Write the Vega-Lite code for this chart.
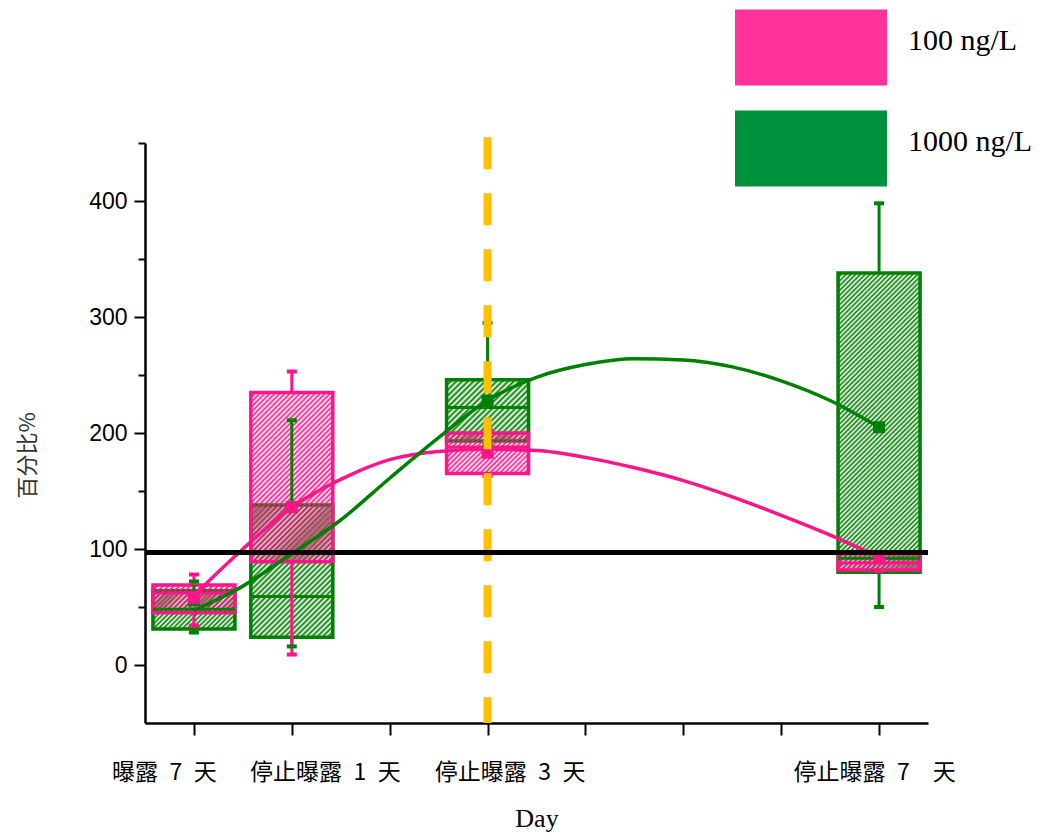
{
  "$schema": "https://vega.github.io/schema/vega-lite/v6.json",
  "width": 783,
  "height": 580,
  "autosize": {"type": "none"},
  "padding": {"left": 145, "top": 143, "right": 122, "bottom": 116},
  "config": {"view": {"stroke": null}, "axis": {"grid": false}, "scale": {"continuousPadding": 0}},
  "datasets": {
    "boxes": [
      {"group": "1000 ng/L", "x": 1, "lo": 28, "q1": 31, "med": 48, "q3": 64, "hi": 72, "mean": 56},
      {"group": "1000 ng/L", "x": 2, "lo": 16, "q1": 24, "med": 59, "q3": 138, "hi": 211, "mean": 136},
      {"group": "1000 ng/L", "x": 4, "lo": 190, "q1": 193, "med": 222, "q3": 246, "hi": 295, "mean": 228},
      {"group": "1000 ng/L", "x": 8, "lo": 50, "q1": 80, "med": 92, "q3": 338, "hi": 398, "mean": 205},
      {"group": "100 ng/L", "x": 1, "lo": 34, "q1": 45, "med": 62, "q3": 69, "hi": 78, "mean": 58},
      {"group": "100 ng/L", "x": 2, "lo": 9, "q1": 89, "med": 97, "q3": 235, "hi": 253, "mean": 136},
      {"group": "100 ng/L", "x": 4, "lo": 163, "q1": 165, "med": 188, "q3": 200, "hi": 203, "mean": 183},
      {"group": "100 ng/L", "x": 8, "lo": 81, "q1": 82, "med": 88, "q3": 96, "hi": 97, "mean": 92}
    ],
    "curves": [
      {"group": "100 ng/L", "x": 1, "y": 60},
      {"group": "100 ng/L", "x": 1.5, "y": 100},
      {"group": "100 ng/L", "x": 2, "y": 136},
      {"group": "100 ng/L", "x": 2.5, "y": 160},
      {"group": "100 ng/L", "x": 3, "y": 177},
      {"group": "100 ng/L", "x": 3.5, "y": 184},
      {"group": "100 ng/L", "x": 4, "y": 186},
      {"group": "100 ng/L", "x": 4.5, "y": 185},
      {"group": "100 ng/L", "x": 5, "y": 179},
      {"group": "100 ng/L", "x": 5.5, "y": 170},
      {"group": "100 ng/L", "x": 6, "y": 159},
      {"group": "100 ng/L", "x": 6.5, "y": 145},
      {"group": "100 ng/L", "x": 7, "y": 129},
      {"group": "100 ng/L", "x": 7.5, "y": 112},
      {"group": "100 ng/L", "x": 8, "y": 93},
      {"group": "1000 ng/L", "x": 1, "y": 47},
      {"group": "1000 ng/L", "x": 1.5, "y": 68},
      {"group": "1000 ng/L", "x": 2, "y": 96},
      {"group": "1000 ng/L", "x": 2.5, "y": 125},
      {"group": "1000 ng/L", "x": 3, "y": 161},
      {"group": "1000 ng/L", "x": 3.5, "y": 196},
      {"group": "1000 ng/L", "x": 4, "y": 228},
      {"group": "1000 ng/L", "x": 4.5, "y": 248},
      {"group": "1000 ng/L", "x": 5, "y": 259},
      {"group": "1000 ng/L", "x": 5.5, "y": 264},
      {"group": "1000 ng/L", "x": 6, "y": 263},
      {"group": "1000 ng/L", "x": 6.5, "y": 257},
      {"group": "1000 ng/L", "x": 7, "y": 245},
      {"group": "1000 ng/L", "x": 7.5, "y": 228},
      {"group": "1000 ng/L", "x": 8, "y": 205}
    ],
    "vline": [{"x": 4, "ytop": 455, "ybot": -50}]
  },
  "layer": [
    {
      "data": {"name": "boxes"},
      "mark": {"type": "point", "size": 0, "strokeWidth": 0, "filled": true},
      "encoding": {
        "x": {"field": "x", "type": "quantitative", "scale": {"domain": [0.5, 8.5], "nice": false, "zero": false, "padding": 0},
          "axis": {
            "title": "Day",
            "titleFont": "Liberation Serif", "titleFontSize": 26, "titleFontWeight": "normal", "titleColor": "black",
            "titleBaseline": "top", "titleY": 82,
            "values": [1, 2, 3, 4, 5, 6, 7, 8],
            "labelExpr": "datum.value == 1 ? '曝露\u20027\u2002天' : datum.value == 2 ? '停止曝露\u20021\u2002天' : datum.value == 4 ? '停止曝露\u20023\u2002天' : datum.value == 8 ? '停止曝露\u20027\u2002\u2002天' : ''",
            "labelFont": "Noto Sans CJK TC", "labelFontSize": 23, "labelColor": "black",
            "labelBaseline": "top", "labelPadding": 26, "labelFlush": false, "labelOverlap": false, "labelBound": false,
            "labelOffset": {"condition": [
              {"test": "datum.value == 1", "value": -30},
              {"test": "datum.value == 2", "value": 33},
              {"test": "datum.value == 4", "value": 22},
              {"test": "datum.value == 8", "value": -5}
            ], "value": 0},
            "tickSize": 12, "tickWidth": 2, "tickColor": "black",
            "domainColor": "black", "domainWidth": 2.5
          }
        },
        "y": {"field": "mean", "type": "quantitative", "scale": {"domain": [-50, 450], "nice": false, "zero": false, "padding": 0},
          "axis": {
            "title": "百分比%",
            "titleFont": "Noto Sans CJK SC", "titleFontSize": 22, "titleFontWeight": "normal", "titleColor": "#333333",
            "titleX": -118, "titleY": 312, "titleAlign": "center", "titleBaseline": "middle", "titleAngle": -90,
            "values": [0, 50, 100, 150, 200, 250, 300, 350, 400, 450],
            "labelExpr": "datum.value % 100 === 0 ? datum.label : ''",
            "labelFont": "Liberation Sans", "labelFontSize": 23, "labelColor": "black", "labelPadding": 7,
            "tickSize": {"condition": {"test": "datum.value % 100 !== 0", "value": 7}, "value": 11},
            "tickWidth": 2, "tickColor": "black",
            "domainColor": "black", "domainWidth": 2.5
          }
        },
        "color": {
          "field": "group", "type": "nominal",
          "scale": {"domain": ["100 ng/L", "1000 ng/L"], "range": ["#FF3399", "#00913F"]},
          "legend": {
            "title": null, "orient": "none", "legendX": 628, "legendY": -133.5,
            "symbolType": "M-2,-1H2V1H-2Z", "symbolSize": 5776, "symbolStrokeWidth": 0, "symbolOpacity": 1,
            "labelFont": "Liberation Serif", "labelFontSize": 30, "labelColor": "black", "labelOffset": 59, "labelLimit": 400,
            "rowPadding": 25, "padding": 0,
            "encode": {"labels": {"update": {"dy": {"value": -7}}}}
          }
        }
      }
    },
    {
      "data": {"name": "boxes"},
      "transform": [{"filter": "datum.group === '1000 ng/L' && datum.x === 1"}],
      "mark": {"type": "bar", "size": 82, "strokeWidth": 3.5, "stroke": "#008000",
        "fill": {"gradient": "linear", "x1": 0, "y1": 0, "x2": 1.2044, "y2": 0.5622, "stops": [
          {"offset": 0, "color": "#008000"}, {"offset": 0.02, "color": "rgba(0,128,0,0)"}, {"offset": 0.04, "color": "#008000"}, {"offset": 0.06, "color": "rgba(0,128,0,0)"}, {"offset": 0.08, "color": "#008000"}, {"offset": 0.1, "color": "rgba(0,128,0,0)"}, {"offset": 0.12, "color": "#008000"}, {"offset": 0.14, "color": "rgba(0,128,0,0)"}, {"offset": 0.16, "color": "#008000"}, {"offset": 0.18, "color": "rgba(0,128,0,0)"}, {"offset": 0.2, "color": "#008000"}, {"offset": 0.22, "color": "rgba(0,128,0,0)"}, {"offset": 0.24, "color": "#008000"}, {"offset": 0.26, "color": "rgba(0,128,0,0)"}, {"offset": 0.28, "color": "#008000"}, {"offset": 0.3, "color": "rgba(0,128,0,0)"}, {"offset": 0.32, "color": "#008000"}, {"offset": 0.34, "color": "rgba(0,128,0,0)"}, {"offset": 0.36, "color": "#008000"}, {"offset": 0.38, "color": "rgba(0,128,0,0)"}, {"offset": 0.4, "color": "#008000"}, {"offset": 0.42, "color": "rgba(0,128,0,0)"}, {"offset": 0.44, "color": "#008000"}, {"offset": 0.46, "color": "rgba(0,128,0,0)"}, {"offset": 0.48, "color": "#008000"}, {"offset": 0.5, "color": "rgba(0,128,0,0)"}, {"offset": 0.52, "color": "#008000"}, {"offset": 0.54, "color": "rgba(0,128,0,0)"}, {"offset": 0.56, "color": "#008000"}, {"offset": 0.58, "color": "rgba(0,128,0,0)"}, {"offset": 0.6, "color": "#008000"}, {"offset": 0.62, "color": "rgba(0,128,0,0)"}, {"offset": 0.64, "color": "#008000"}, {"offset": 0.66, "color": "rgba(0,128,0,0)"}, {"offset": 0.68, "color": "#008000"}, {"offset": 0.7, "color": "rgba(0,128,0,0)"}, {"offset": 0.72, "color": "#008000"}, {"offset": 0.74, "color": "rgba(0,128,0,0)"}, {"offset": 0.76, "color": "#008000"}, {"offset": 0.78, "color": "rgba(0,128,0,0)"}, {"offset": 0.8, "color": "#008000"}, {"offset": 0.82, "color": "rgba(0,128,0,0)"}, {"offset": 0.84, "color": "#008000"}, {"offset": 0.86, "color": "rgba(0,128,0,0)"}, {"offset": 0.88, "color": "#008000"}, {"offset": 0.9, "color": "rgba(0,128,0,0)"}, {"offset": 0.92, "color": "#008000"}, {"offset": 0.94, "color": "rgba(0,128,0,0)"}, {"offset": 0.96, "color": "#008000"}, {"offset": 0.98, "color": "rgba(0,128,0,0)"}, {"offset": 1, "color": "#008000"}
        ]}},
      "encoding": {
        "x": {"field": "x", "type": "quantitative", "scale": {"domain": [0.5, 8.5], "nice": false, "zero": false, "padding": 0}},
        "y": {"field": "q1", "type": "quantitative", "scale": {"domain": [-50, 450], "nice": false, "zero": false, "padding": 0}},
        "y2": {"field": "q3"}
      }
    },
    {
      "data": {"name": "boxes"},
      "transform": [{"filter": "datum.group === '1000 ng/L' && datum.x === 2"}],
      "mark": {"type": "bar", "size": 82, "strokeWidth": 3.5, "stroke": "#008000",
        "fill": {"gradient": "linear", "x1": 0, "y1": 0, "x2": 0.7256, "y2": 1.1702, "stops": [
          {"offset": 0, "color": "#008000"}, {"offset": 0.0125, "color": "rgba(0,128,0,0)"}, {"offset": 0.025, "color": "#008000"}, {"offset": 0.0375, "color": "rgba(0,128,0,0)"}, {"offset": 0.05, "color": "#008000"}, {"offset": 0.0625, "color": "rgba(0,128,0,0)"}, {"offset": 0.075, "color": "#008000"}, {"offset": 0.0875, "color": "rgba(0,128,0,0)"},
          {"offset": 0.1, "color": "#008000"}, {"offset": 0.1125, "color": "rgba(0,128,0,0)"}, {"offset": 0.125, "color": "#008000"}, {"offset": 0.1375, "color": "rgba(0,128,0,0)"}, {"offset": 0.15, "color": "#008000"}, {"offset": 0.1625, "color": "rgba(0,128,0,0)"}, {"offset": 0.175, "color": "#008000"}, {"offset": 0.1875, "color": "rgba(0,128,0,0)"},
          {"offset": 0.2, "color": "#008000"}, {"offset": 0.2125, "color": "rgba(0,128,0,0)"}, {"offset": 0.225, "color": "#008000"}, {"offset": 0.2375, "color": "rgba(0,128,0,0)"}, {"offset": 0.25, "color": "#008000"}, {"offset": 0.2625, "color": "rgba(0,128,0,0)"}, {"offset": 0.275, "color": "#008000"}, {"offset": 0.2875, "color": "rgba(0,128,0,0)"},
          {"offset": 0.3, "color": "#008000"}, {"offset": 0.3125, "color": "rgba(0,128,0,0)"}, {"offset": 0.325, "color": "#008000"}, {"offset": 0.3375, "color": "rgba(0,128,0,0)"}, {"offset": 0.35, "color": "#008000"}, {"offset": 0.3625, "color": "rgba(0,128,0,0)"}, {"offset": 0.375, "color": "#008000"}, {"offset": 0.3875, "color": "rgba(0,128,0,0)"},
          {"offset": 0.4, "color": "#008000"}, {"offset": 0.4125, "color": "rgba(0,128,0,0)"}, {"offset": 0.425, "color": "#008000"}, {"offset": 0.4375, "color": "rgba(0,128,0,0)"}, {"offset": 0.45, "color": "#008000"}, {"offset": 0.4625, "color": "rgba(0,128,0,0)"}, {"offset": 0.475, "color": "#008000"}, {"offset": 0.4875, "color": "rgba(0,128,0,0)"},
          {"offset": 0.5, "color": "#008000"}, {"offset": 0.5125, "color": "rgba(0,128,0,0)"}, {"offset": 0.525, "color": "#008000"}, {"offset": 0.5375, "color": "rgba(0,128,0,0)"}, {"offset": 0.55, "color": "#008000"}, {"offset": 0.5625, "color": "rgba(0,128,0,0)"}, {"offset": 0.575, "color": "#008000"}, {"offset": 0.5875, "color": "rgba(0,128,0,0)"},
          {"offset": 0.6, "color": "#008000"}, {"offset": 0.6125, "color": "rgba(0,128,0,0)"}, {"offset": 0.625, "color": "#008000"}, {"offset": 0.6375, "color": "rgba(0,128,0,0)"}, {"offset": 0.65, "color": "#008000"}, {"offset": 0.6625, "color": "rgba(0,128,0,0)"}, {"offset": 0.675, "color": "#008000"}, {"offset": 0.6875, "color": "rgba(0,128,0,0)"},
          {"offset": 0.7, "color": "#008000"}, {"offset": 0.7125, "color": "rgba(0,128,0,0)"}, {"offset": 0.725, "color": "#008000"}, {"offset": 0.7375, "color": "rgba(0,128,0,0)"}, {"offset": 0.75, "color": "#008000"}, {"offset": 0.7625, "color": "rgba(0,128,0,0)"}, {"offset": 0.775, "color": "#008000"}, {"offset": 0.7875, "color": "rgba(0,128,0,0)"},
          {"offset": 0.8, "color": "#008000"}, {"offset": 0.8125, "color": "rgba(0,128,0,0)"}, {"offset": 0.825, "color": "#008000"}, {"offset": 0.8375, "color": "rgba(0,128,0,0)"}, {"offset": 0.85, "color": "#008000"}, {"offset": 0.8625, "color": "rgba(0,128,0,0)"}, {"offset": 0.875, "color": "#008000"}, {"offset": 0.8875, "color": "rgba(0,128,0,0)"},
          {"offset": 0.9, "color": "#008000"}, {"offset": 0.9125, "color": "rgba(0,128,0,0)"}, {"offset": 0.925, "color": "#008000"}, {"offset": 0.9375, "color": "rgba(0,128,0,0)"}, {"offset": 0.95, "color": "#008000"}, {"offset": 0.9625, "color": "rgba(0,128,0,0)"}, {"offset": 0.975, "color": "#008000"}, {"offset": 0.9875, "color": "rgba(0,128,0,0)"},
          {"offset": 1, "color": "#008000"}
        ]}},
      "encoding": {
        "x": {"field": "x", "type": "quantitative", "scale": {"domain": [0.5, 8.5], "nice": false, "zero": false, "padding": 0}},
        "y": {"field": "q1", "type": "quantitative", "scale": {"domain": [-50, 450], "nice": false, "zero": false, "padding": 0}},
        "y2": {"field": "q3"}
      }
    },
    {
      "data": {"name": "boxes"},
      "transform": [{"filter": "datum.group === '1000 ng/L' && datum.x === 4"}],
      "mark": {"type": "bar", "size": 82, "strokeWidth": 3.5, "stroke": "#008000",
        "fill": {"gradient": "linear", "x1": 0, "y1": 0, "x2": 1.1201, "y2": 0.8398, "stops": [
          {"offset": 0, "color": "#008000"}, {"offset": 0.02, "color": "rgba(0,128,0,0)"}, {"offset": 0.04, "color": "#008000"}, {"offset": 0.06, "color": "rgba(0,128,0,0)"}, {"offset": 0.08, "color": "#008000"}, {"offset": 0.1, "color": "rgba(0,128,0,0)"}, {"offset": 0.12, "color": "#008000"}, {"offset": 0.14, "color": "rgba(0,128,0,0)"}, {"offset": 0.16, "color": "#008000"}, {"offset": 0.18, "color": "rgba(0,128,0,0)"}, {"offset": 0.2, "color": "#008000"}, {"offset": 0.22, "color": "rgba(0,128,0,0)"}, {"offset": 0.24, "color": "#008000"}, {"offset": 0.26, "color": "rgba(0,128,0,0)"}, {"offset": 0.28, "color": "#008000"}, {"offset": 0.3, "color": "rgba(0,128,0,0)"}, {"offset": 0.32, "color": "#008000"}, {"offset": 0.34, "color": "rgba(0,128,0,0)"}, {"offset": 0.36, "color": "#008000"}, {"offset": 0.38, "color": "rgba(0,128,0,0)"}, {"offset": 0.4, "color": "#008000"}, {"offset": 0.42, "color": "rgba(0,128,0,0)"}, {"offset": 0.44, "color": "#008000"}, {"offset": 0.46, "color": "rgba(0,128,0,0)"}, {"offset": 0.48, "color": "#008000"}, {"offset": 0.5, "color": "rgba(0,128,0,0)"}, {"offset": 0.52, "color": "#008000"}, {"offset": 0.54, "color": "rgba(0,128,0,0)"}, {"offset": 0.56, "color": "#008000"}, {"offset": 0.58, "color": "rgba(0,128,0,0)"}, {"offset": 0.6, "color": "#008000"}, {"offset": 0.62, "color": "rgba(0,128,0,0)"}, {"offset": 0.64, "color": "#008000"}, {"offset": 0.66, "color": "rgba(0,128,0,0)"}, {"offset": 0.68, "color": "#008000"}, {"offset": 0.7, "color": "rgba(0,128,0,0)"}, {"offset": 0.72, "color": "#008000"}, {"offset": 0.74, "color": "rgba(0,128,0,0)"}, {"offset": 0.76, "color": "#008000"}, {"offset": 0.78, "color": "rgba(0,128,0,0)"}, {"offset": 0.8, "color": "#008000"}, {"offset": 0.82, "color": "rgba(0,128,0,0)"}, {"offset": 0.84, "color": "#008000"}, {"offset": 0.86, "color": "rgba(0,128,0,0)"}, {"offset": 0.88, "color": "#008000"}, {"offset": 0.9, "color": "rgba(0,128,0,0)"}, {"offset": 0.92, "color": "#008000"}, {"offset": 0.94, "color": "rgba(0,128,0,0)"}, {"offset": 0.96, "color": "#008000"}, {"offset": 0.98, "color": "rgba(0,128,0,0)"}, {"offset": 1, "color": "#008000"}
        ]}},
      "encoding": {
        "x": {"field": "x", "type": "quantitative", "scale": {"domain": [0.5, 8.5], "nice": false, "zero": false, "padding": 0}},
        "y": {"field": "q1", "type": "quantitative", "scale": {"domain": [-50, 450], "nice": false, "zero": false, "padding": 0}},
        "y2": {"field": "q3"}
      }
    },
    {
      "data": {"name": "boxes"},
      "transform": [{"filter": "datum.group === '1000 ng/L' && datum.x === 8"}],
      "mark": {"type": "bar", "size": 82, "strokeWidth": 3.5, "stroke": "#008000",
        "fill": {"gradient": "linear", "x1": 0, "y1": 0, "x2": 0.3247, "y2": 1.185, "stops": [
          {"offset": 0, "color": "#008000"}, {"offset": 0.00625, "color": "rgba(0,128,0,0)"}, {"offset": 0.0125, "color": "#008000"}, {"offset": 0.01875, "color": "rgba(0,128,0,0)"}, {"offset": 0.025, "color": "#008000"}, {"offset": 0.03125, "color": "rgba(0,128,0,0)"}, {"offset": 0.0375, "color": "#008000"}, {"offset": 0.04375, "color": "rgba(0,128,0,0)"}, {"offset": 0.05, "color": "#008000"}, {"offset": 0.05625, "color": "rgba(0,128,0,0)"}, {"offset": 0.0625, "color": "#008000"}, {"offset": 0.06875, "color": "rgba(0,128,0,0)"}, {"offset": 0.075, "color": "#008000"}, {"offset": 0.08125, "color": "rgba(0,128,0,0)"}, {"offset": 0.0875, "color": "#008000"}, {"offset": 0.09375, "color": "rgba(0,128,0,0)"},
          {"offset": 0.1, "color": "#008000"}, {"offset": 0.10625, "color": "rgba(0,128,0,0)"}, {"offset": 0.1125, "color": "#008000"}, {"offset": 0.11875, "color": "rgba(0,128,0,0)"}, {"offset": 0.125, "color": "#008000"}, {"offset": 0.13125, "color": "rgba(0,128,0,0)"}, {"offset": 0.1375, "color": "#008000"}, {"offset": 0.14375, "color": "rgba(0,128,0,0)"}, {"offset": 0.15, "color": "#008000"}, {"offset": 0.15625, "color": "rgba(0,128,0,0)"}, {"offset": 0.1625, "color": "#008000"}, {"offset": 0.16875, "color": "rgba(0,128,0,0)"}, {"offset": 0.175, "color": "#008000"}, {"offset": 0.18125, "color": "rgba(0,128,0,0)"}, {"offset": 0.1875, "color": "#008000"}, {"offset": 0.19375, "color": "rgba(0,128,0,0)"},
          {"offset": 0.2, "color": "#008000"}, {"offset": 0.20625, "color": "rgba(0,128,0,0)"}, {"offset": 0.2125, "color": "#008000"}, {"offset": 0.21875, "color": "rgba(0,128,0,0)"}, {"offset": 0.225, "color": "#008000"}, {"offset": 0.23125, "color": "rgba(0,128,0,0)"}, {"offset": 0.2375, "color": "#008000"}, {"offset": 0.24375, "color": "rgba(0,128,0,0)"}, {"offset": 0.25, "color": "#008000"}, {"offset": 0.25625, "color": "rgba(0,128,0,0)"}, {"offset": 0.2625, "color": "#008000"}, {"offset": 0.26875, "color": "rgba(0,128,0,0)"}, {"offset": 0.275, "color": "#008000"}, {"offset": 0.28125, "color": "rgba(0,128,0,0)"}, {"offset": 0.2875, "color": "#008000"}, {"offset": 0.29375, "color": "rgba(0,128,0,0)"},
          {"offset": 0.3, "color": "#008000"}, {"offset": 0.30625, "color": "rgba(0,128,0,0)"}, {"offset": 0.3125, "color": "#008000"}, {"offset": 0.31875, "color": "rgba(0,128,0,0)"}, {"offset": 0.325, "color": "#008000"}, {"offset": 0.33125, "color": "rgba(0,128,0,0)"}, {"offset": 0.3375, "color": "#008000"}, {"offset": 0.34375, "color": "rgba(0,128,0,0)"}, {"offset": 0.35, "color": "#008000"}, {"offset": 0.35625, "color": "rgba(0,128,0,0)"}, {"offset": 0.3625, "color": "#008000"}, {"offset": 0.36875, "color": "rgba(0,128,0,0)"}, {"offset": 0.375, "color": "#008000"}, {"offset": 0.38125, "color": "rgba(0,128,0,0)"}, {"offset": 0.3875, "color": "#008000"}, {"offset": 0.39375, "color": "rgba(0,128,0,0)"},
          {"offset": 0.4, "color": "#008000"}, {"offset": 0.40625, "color": "rgba(0,128,0,0)"}, {"offset": 0.4125, "color": "#008000"}, {"offset": 0.41875, "color": "rgba(0,128,0,0)"}, {"offset": 0.425, "color": "#008000"}, {"offset": 0.43125, "color": "rgba(0,128,0,0)"}, {"offset": 0.4375, "color": "#008000"}, {"offset": 0.44375, "color": "rgba(0,128,0,0)"}, {"offset": 0.45, "color": "#008000"}, {"offset": 0.45625, "color": "rgba(0,128,0,0)"}, {"offset": 0.4625, "color": "#008000"}, {"offset": 0.46875, "color": "rgba(0,128,0,0)"}, {"offset": 0.475, "color": "#008000"}, {"offset": 0.48125, "color": "rgba(0,128,0,0)"}, {"offset": 0.4875, "color": "#008000"}, {"offset": 0.49375, "color": "rgba(0,128,0,0)"},
          {"offset": 0.5, "color": "#008000"}, {"offset": 0.50625, "color": "rgba(0,128,0,0)"}, {"offset": 0.5125, "color": "#008000"}, {"offset": 0.51875, "color": "rgba(0,128,0,0)"}, {"offset": 0.525, "color": "#008000"}, {"offset": 0.53125, "color": "rgba(0,128,0,0)"}, {"offset": 0.5375, "color": "#008000"}, {"offset": 0.54375, "color": "rgba(0,128,0,0)"}, {"offset": 0.55, "color": "#008000"}, {"offset": 0.55625, "color": "rgba(0,128,0,0)"}, {"offset": 0.5625, "color": "#008000"}, {"offset": 0.56875, "color": "rgba(0,128,0,0)"}, {"offset": 0.575, "color": "#008000"}, {"offset": 0.58125, "color": "rgba(0,128,0,0)"}, {"offset": 0.5875, "color": "#008000"}, {"offset": 0.59375, "color": "rgba(0,128,0,0)"},
          {"offset": 0.6, "color": "#008000"}, {"offset": 0.60625, "color": "rgba(0,128,0,0)"}, {"offset": 0.6125, "color": "#008000"}, {"offset": 0.61875, "color": "rgba(0,128,0,0)"}, {"offset": 0.625, "color": "#008000"}, {"offset": 0.63125, "color": "rgba(0,128,0,0)"}, {"offset": 0.6375, "color": "#008000"}, {"offset": 0.64375, "color": "rgba(0,128,0,0)"}, {"offset": 0.65, "color": "#008000"}, {"offset": 0.65625, "color": "rgba(0,128,0,0)"}, {"offset": 0.6625, "color": "#008000"}, {"offset": 0.66875, "color": "rgba(0,128,0,0)"}, {"offset": 0.675, "color": "#008000"}, {"offset": 0.68125, "color": "rgba(0,128,0,0)"}, {"offset": 0.6875, "color": "#008000"}, {"offset": 0.69375, "color": "rgba(0,128,0,0)"},
          {"offset": 0.7, "color": "#008000"}, {"offset": 0.70625, "color": "rgba(0,128,0,0)"}, {"offset": 0.7125, "color": "#008000"}, {"offset": 0.71875, "color": "rgba(0,128,0,0)"}, {"offset": 0.725, "color": "#008000"}, {"offset": 0.73125, "color": "rgba(0,128,0,0)"}, {"offset": 0.7375, "color": "#008000"}, {"offset": 0.74375, "color": "rgba(0,128,0,0)"}, {"offset": 0.75, "color": "#008000"}, {"offset": 0.75625, "color": "rgba(0,128,0,0)"}, {"offset": 0.7625, "color": "#008000"}, {"offset": 0.76875, "color": "rgba(0,128,0,0)"}, {"offset": 0.775, "color": "#008000"}, {"offset": 0.78125, "color": "rgba(0,128,0,0)"}, {"offset": 0.7875, "color": "#008000"}, {"offset": 0.79375, "color": "rgba(0,128,0,0)"},
          {"offset": 0.8, "color": "#008000"}, {"offset": 0.80625, "color": "rgba(0,128,0,0)"}, {"offset": 0.8125, "color": "#008000"}, {"offset": 0.81875, "color": "rgba(0,128,0,0)"}, {"offset": 0.825, "color": "#008000"}, {"offset": 0.83125, "color": "rgba(0,128,0,0)"}, {"offset": 0.8375, "color": "#008000"}, {"offset": 0.84375, "color": "rgba(0,128,0,0)"}, {"offset": 0.85, "color": "#008000"}, {"offset": 0.85625, "color": "rgba(0,128,0,0)"}, {"offset": 0.8625, "color": "#008000"}, {"offset": 0.86875, "color": "rgba(0,128,0,0)"}, {"offset": 0.875, "color": "#008000"}, {"offset": 0.88125, "color": "rgba(0,128,0,0)"}, {"offset": 0.8875, "color": "#008000"}, {"offset": 0.89375, "color": "rgba(0,128,0,0)"},
          {"offset": 0.9, "color": "#008000"}, {"offset": 0.90625, "color": "rgba(0,128,0,0)"}, {"offset": 0.9125, "color": "#008000"}, {"offset": 0.91875, "color": "rgba(0,128,0,0)"}, {"offset": 0.925, "color": "#008000"}, {"offset": 0.93125, "color": "rgba(0,128,0,0)"}, {"offset": 0.9375, "color": "#008000"}, {"offset": 0.94375, "color": "rgba(0,128,0,0)"}, {"offset": 0.95, "color": "#008000"}, {"offset": 0.95625, "color": "rgba(0,128,0,0)"}, {"offset": 0.9625, "color": "#008000"}, {"offset": 0.96875, "color": "rgba(0,128,0,0)"}, {"offset": 0.975, "color": "#008000"}, {"offset": 0.98125, "color": "rgba(0,128,0,0)"}, {"offset": 0.9875, "color": "#008000"}, {"offset": 0.99375, "color": "rgba(0,128,0,0)"},
          {"offset": 1, "color": "#008000"}
        ]}},
      "encoding": {
        "x": {"field": "x", "type": "quantitative", "scale": {"domain": [0.5, 8.5], "nice": false, "zero": false, "padding": 0}},
        "y": {"field": "q1", "type": "quantitative", "scale": {"domain": [-50, 450], "nice": false, "zero": false, "padding": 0}},
        "y2": {"field": "q3"}
      }
    },
    {
      "data": {"name": "boxes"},
      "transform": [{"filter": "datum.group === '100 ng/L' && datum.x === 1"}],
      "mark": {"type": "bar", "size": 82, "strokeWidth": 3.5, "stroke": "#FF1489",
        "fill": {"gradient": "linear", "x1": 0, "y1": 0, "x2": 1.2011, "y2": 0.4078, "stops": [
          {"offset": 0, "color": "#FF1489"}, {"offset": 0.025, "color": "rgba(255,20,137,0)"}, {"offset": 0.05, "color": "#FF1489"}, {"offset": 0.075, "color": "rgba(255,20,137,0)"}, {"offset": 0.1, "color": "#FF1489"}, {"offset": 0.125, "color": "rgba(255,20,137,0)"}, {"offset": 0.15, "color": "#FF1489"}, {"offset": 0.175, "color": "rgba(255,20,137,0)"}, {"offset": 0.2, "color": "#FF1489"}, {"offset": 0.225, "color": "rgba(255,20,137,0)"}, {"offset": 0.25, "color": "#FF1489"}, {"offset": 0.275, "color": "rgba(255,20,137,0)"}, {"offset": 0.3, "color": "#FF1489"}, {"offset": 0.325, "color": "rgba(255,20,137,0)"}, {"offset": 0.35, "color": "#FF1489"}, {"offset": 0.375, "color": "rgba(255,20,137,0)"}, {"offset": 0.4, "color": "#FF1489"}, {"offset": 0.425, "color": "rgba(255,20,137,0)"}, {"offset": 0.45, "color": "#FF1489"}, {"offset": 0.475, "color": "rgba(255,20,137,0)"}, {"offset": 0.5, "color": "#FF1489"}, {"offset": 0.525, "color": "rgba(255,20,137,0)"}, {"offset": 0.55, "color": "#FF1489"}, {"offset": 0.575, "color": "rgba(255,20,137,0)"}, {"offset": 0.6, "color": "#FF1489"}, {"offset": 0.625, "color": "rgba(255,20,137,0)"}, {"offset": 0.65, "color": "#FF1489"}, {"offset": 0.675, "color": "rgba(255,20,137,0)"}, {"offset": 0.7, "color": "#FF1489"}, {"offset": 0.725, "color": "rgba(255,20,137,0)"}, {"offset": 0.75, "color": "#FF1489"}, {"offset": 0.775, "color": "rgba(255,20,137,0)"}, {"offset": 0.8, "color": "#FF1489"}, {"offset": 0.825, "color": "rgba(255,20,137,0)"}, {"offset": 0.85, "color": "#FF1489"}, {"offset": 0.875, "color": "rgba(255,20,137,0)"}, {"offset": 0.9, "color": "#FF1489"}, {"offset": 0.925, "color": "rgba(255,20,137,0)"}, {"offset": 0.95, "color": "#FF1489"}, {"offset": 0.975, "color": "rgba(255,20,137,0)"}, {"offset": 1, "color": "#FF1489"}
        ]}},
      "encoding": {
        "x": {"field": "x", "type": "quantitative", "scale": {"domain": [0.5, 8.5], "nice": false, "zero": false, "padding": 0}},
        "y": {"field": "q1", "type": "quantitative", "scale": {"domain": [-50, 450], "nice": false, "zero": false, "padding": 0}},
        "y2": {"field": "q3"}
      }
    },
    {
      "data": {"name": "boxes"},
      "transform": [{"filter": "datum.group === '100 ng/L' && datum.x === 2"}],
      "mark": {"type": "bar", "size": 82, "strokeWidth": 3.5, "stroke": "#FF1489",
        "fill": {"gradient": "linear", "x1": 0, "y1": 0, "x2": 0.5821, "y2": 1.2023, "stops": [
          {"offset": 0, "color": "#FF1489"}, {"offset": 0.01, "color": "rgba(255,20,137,0)"}, {"offset": 0.02, "color": "#FF1489"}, {"offset": 0.03, "color": "rgba(255,20,137,0)"}, {"offset": 0.04, "color": "#FF1489"}, {"offset": 0.05, "color": "rgba(255,20,137,0)"}, {"offset": 0.06, "color": "#FF1489"}, {"offset": 0.07, "color": "rgba(255,20,137,0)"}, {"offset": 0.08, "color": "#FF1489"}, {"offset": 0.09, "color": "rgba(255,20,137,0)"},
          {"offset": 0.1, "color": "#FF1489"}, {"offset": 0.11, "color": "rgba(255,20,137,0)"}, {"offset": 0.12, "color": "#FF1489"}, {"offset": 0.13, "color": "rgba(255,20,137,0)"}, {"offset": 0.14, "color": "#FF1489"}, {"offset": 0.15, "color": "rgba(255,20,137,0)"}, {"offset": 0.16, "color": "#FF1489"}, {"offset": 0.17, "color": "rgba(255,20,137,0)"}, {"offset": 0.18, "color": "#FF1489"}, {"offset": 0.19, "color": "rgba(255,20,137,0)"},
          {"offset": 0.2, "color": "#FF1489"}, {"offset": 0.21, "color": "rgba(255,20,137,0)"}, {"offset": 0.22, "color": "#FF1489"}, {"offset": 0.23, "color": "rgba(255,20,137,0)"}, {"offset": 0.24, "color": "#FF1489"}, {"offset": 0.25, "color": "rgba(255,20,137,0)"}, {"offset": 0.26, "color": "#FF1489"}, {"offset": 0.27, "color": "rgba(255,20,137,0)"}, {"offset": 0.28, "color": "#FF1489"}, {"offset": 0.29, "color": "rgba(255,20,137,0)"},
          {"offset": 0.3, "color": "#FF1489"}, {"offset": 0.31, "color": "rgba(255,20,137,0)"}, {"offset": 0.32, "color": "#FF1489"}, {"offset": 0.33, "color": "rgba(255,20,137,0)"}, {"offset": 0.34, "color": "#FF1489"}, {"offset": 0.35, "color": "rgba(255,20,137,0)"}, {"offset": 0.36, "color": "#FF1489"}, {"offset": 0.37, "color": "rgba(255,20,137,0)"}, {"offset": 0.38, "color": "#FF1489"}, {"offset": 0.39, "color": "rgba(255,20,137,0)"},
          {"offset": 0.4, "color": "#FF1489"}, {"offset": 0.41, "color": "rgba(255,20,137,0)"}, {"offset": 0.42, "color": "#FF1489"}, {"offset": 0.43, "color": "rgba(255,20,137,0)"}, {"offset": 0.44, "color": "#FF1489"}, {"offset": 0.45, "color": "rgba(255,20,137,0)"}, {"offset": 0.46, "color": "#FF1489"}, {"offset": 0.47, "color": "rgba(255,20,137,0)"}, {"offset": 0.48, "color": "#FF1489"}, {"offset": 0.49, "color": "rgba(255,20,137,0)"},
          {"offset": 0.5, "color": "#FF1489"}, {"offset": 0.51, "color": "rgba(255,20,137,0)"}, {"offset": 0.52, "color": "#FF1489"}, {"offset": 0.53, "color": "rgba(255,20,137,0)"}, {"offset": 0.54, "color": "#FF1489"}, {"offset": 0.55, "color": "rgba(255,20,137,0)"}, {"offset": 0.56, "color": "#FF1489"}, {"offset": 0.57, "color": "rgba(255,20,137,0)"}, {"offset": 0.58, "color": "#FF1489"}, {"offset": 0.59, "color": "rgba(255,20,137,0)"},
          {"offset": 0.6, "color": "#FF1489"}, {"offset": 0.61, "color": "rgba(255,20,137,0)"}, {"offset": 0.62, "color": "#FF1489"}, {"offset": 0.63, "color": "rgba(255,20,137,0)"}, {"offset": 0.64, "color": "#FF1489"}, {"offset": 0.65, "color": "rgba(255,20,137,0)"}, {"offset": 0.66, "color": "#FF1489"}, {"offset": 0.67, "color": "rgba(255,20,137,0)"}, {"offset": 0.68, "color": "#FF1489"}, {"offset": 0.69, "color": "rgba(255,20,137,0)"},
          {"offset": 0.7, "color": "#FF1489"}, {"offset": 0.71, "color": "rgba(255,20,137,0)"}, {"offset": 0.72, "color": "#FF1489"}, {"offset": 0.73, "color": "rgba(255,20,137,0)"}, {"offset": 0.74, "color": "#FF1489"}, {"offset": 0.75, "color": "rgba(255,20,137,0)"}, {"offset": 0.76, "color": "#FF1489"}, {"offset": 0.77, "color": "rgba(255,20,137,0)"}, {"offset": 0.78, "color": "#FF1489"}, {"offset": 0.79, "color": "rgba(255,20,137,0)"},
          {"offset": 0.8, "color": "#FF1489"}, {"offset": 0.81, "color": "rgba(255,20,137,0)"}, {"offset": 0.82, "color": "#FF1489"}, {"offset": 0.83, "color": "rgba(255,20,137,0)"}, {"offset": 0.84, "color": "#FF1489"}, {"offset": 0.85, "color": "rgba(255,20,137,0)"}, {"offset": 0.86, "color": "#FF1489"}, {"offset": 0.87, "color": "rgba(255,20,137,0)"}, {"offset": 0.88, "color": "#FF1489"}, {"offset": 0.89, "color": "rgba(255,20,137,0)"},
          {"offset": 0.9, "color": "#FF1489"}, {"offset": 0.91, "color": "rgba(255,20,137,0)"}, {"offset": 0.92, "color": "#FF1489"}, {"offset": 0.93, "color": "rgba(255,20,137,0)"}, {"offset": 0.94, "color": "#FF1489"}, {"offset": 0.95, "color": "rgba(255,20,137,0)"}, {"offset": 0.96, "color": "#FF1489"}, {"offset": 0.97, "color": "rgba(255,20,137,0)"}, {"offset": 0.98, "color": "#FF1489"}, {"offset": 0.99, "color": "rgba(255,20,137,0)"},
          {"offset": 1, "color": "#FF1489"}
        ]}},
      "encoding": {
        "x": {"field": "x", "type": "quantitative", "scale": {"domain": [0.5, 8.5], "nice": false, "zero": false, "padding": 0}},
        "y": {"field": "q1", "type": "quantitative", "scale": {"domain": [-50, 450], "nice": false, "zero": false, "padding": 0}},
        "y2": {"field": "q3"}
      }
    },
    {
      "data": {"name": "boxes"},
      "transform": [{"filter": "datum.group === '100 ng/L' && datum.x === 4"}],
      "mark": {"type": "bar", "size": 82, "strokeWidth": 3.5, "stroke": "#FF1489",
        "fill": {"gradient": "linear", "x1": 0, "y1": 0, "x2": 1.2008, "y2": 0.5945, "stops": [
          {"offset": 0, "color": "#FF1489"}, {"offset": 0.02, "color": "rgba(255,20,137,0)"}, {"offset": 0.04, "color": "#FF1489"}, {"offset": 0.06, "color": "rgba(255,20,137,0)"}, {"offset": 0.08, "color": "#FF1489"}, {"offset": 0.1, "color": "rgba(255,20,137,0)"}, {"offset": 0.12, "color": "#FF1489"}, {"offset": 0.14, "color": "rgba(255,20,137,0)"}, {"offset": 0.16, "color": "#FF1489"}, {"offset": 0.18, "color": "rgba(255,20,137,0)"}, {"offset": 0.2, "color": "#FF1489"}, {"offset": 0.22, "color": "rgba(255,20,137,0)"}, {"offset": 0.24, "color": "#FF1489"}, {"offset": 0.26, "color": "rgba(255,20,137,0)"}, {"offset": 0.28, "color": "#FF1489"}, {"offset": 0.3, "color": "rgba(255,20,137,0)"}, {"offset": 0.32, "color": "#FF1489"}, {"offset": 0.34, "color": "rgba(255,20,137,0)"}, {"offset": 0.36, "color": "#FF1489"}, {"offset": 0.38, "color": "rgba(255,20,137,0)"}, {"offset": 0.4, "color": "#FF1489"}, {"offset": 0.42, "color": "rgba(255,20,137,0)"}, {"offset": 0.44, "color": "#FF1489"}, {"offset": 0.46, "color": "rgba(255,20,137,0)"}, {"offset": 0.48, "color": "#FF1489"}, {"offset": 0.5, "color": "rgba(255,20,137,0)"}, {"offset": 0.52, "color": "#FF1489"}, {"offset": 0.54, "color": "rgba(255,20,137,0)"}, {"offset": 0.56, "color": "#FF1489"}, {"offset": 0.58, "color": "rgba(255,20,137,0)"}, {"offset": 0.6, "color": "#FF1489"}, {"offset": 0.62, "color": "rgba(255,20,137,0)"}, {"offset": 0.64, "color": "#FF1489"}, {"offset": 0.66, "color": "rgba(255,20,137,0)"}, {"offset": 0.68, "color": "#FF1489"}, {"offset": 0.7, "color": "rgba(255,20,137,0)"}, {"offset": 0.72, "color": "#FF1489"}, {"offset": 0.74, "color": "rgba(255,20,137,0)"}, {"offset": 0.76, "color": "#FF1489"}, {"offset": 0.78, "color": "rgba(255,20,137,0)"}, {"offset": 0.8, "color": "#FF1489"}, {"offset": 0.82, "color": "rgba(255,20,137,0)"}, {"offset": 0.84, "color": "#FF1489"}, {"offset": 0.86, "color": "rgba(255,20,137,0)"}, {"offset": 0.88, "color": "#FF1489"}, {"offset": 0.9, "color": "rgba(255,20,137,0)"}, {"offset": 0.92, "color": "#FF1489"}, {"offset": 0.94, "color": "rgba(255,20,137,0)"}, {"offset": 0.96, "color": "#FF1489"}, {"offset": 0.98, "color": "rgba(255,20,137,0)"}, {"offset": 1, "color": "#FF1489"}
        ]}},
      "encoding": {
        "x": {"field": "x", "type": "quantitative", "scale": {"domain": [0.5, 8.5], "nice": false, "zero": false, "padding": 0}},
        "y": {"field": "q1", "type": "quantitative", "scale": {"domain": [-50, 450], "nice": false, "zero": false, "padding": 0}},
        "y2": {"field": "q3"}
      }
    },
    {
      "data": {"name": "boxes"},
      "transform": [{"filter": "datum.group === '100 ng/L' && datum.x === 8"}],
      "mark": {"type": "bar", "size": 82, "strokeWidth": 3.5, "stroke": "#FF1489",
        "fill": {"gradient": "linear", "x1": 0, "y1": 0, "x2": 1.1528, "y2": 0.2283, "stops": [
          {"offset": 0, "color": "#FF1489"}, {"offset": 0.025, "color": "rgba(255,20,137,0)"}, {"offset": 0.05, "color": "#FF1489"}, {"offset": 0.075, "color": "rgba(255,20,137,0)"}, {"offset": 0.1, "color": "#FF1489"}, {"offset": 0.125, "color": "rgba(255,20,137,0)"}, {"offset": 0.15, "color": "#FF1489"}, {"offset": 0.175, "color": "rgba(255,20,137,0)"}, {"offset": 0.2, "color": "#FF1489"}, {"offset": 0.225, "color": "rgba(255,20,137,0)"}, {"offset": 0.25, "color": "#FF1489"}, {"offset": 0.275, "color": "rgba(255,20,137,0)"}, {"offset": 0.3, "color": "#FF1489"}, {"offset": 0.325, "color": "rgba(255,20,137,0)"}, {"offset": 0.35, "color": "#FF1489"}, {"offset": 0.375, "color": "rgba(255,20,137,0)"}, {"offset": 0.4, "color": "#FF1489"}, {"offset": 0.425, "color": "rgba(255,20,137,0)"}, {"offset": 0.45, "color": "#FF1489"}, {"offset": 0.475, "color": "rgba(255,20,137,0)"}, {"offset": 0.5, "color": "#FF1489"}, {"offset": 0.525, "color": "rgba(255,20,137,0)"}, {"offset": 0.55, "color": "#FF1489"}, {"offset": 0.575, "color": "rgba(255,20,137,0)"}, {"offset": 0.6, "color": "#FF1489"}, {"offset": 0.625, "color": "rgba(255,20,137,0)"}, {"offset": 0.65, "color": "#FF1489"}, {"offset": 0.675, "color": "rgba(255,20,137,0)"}, {"offset": 0.7, "color": "#FF1489"}, {"offset": 0.725, "color": "rgba(255,20,137,0)"}, {"offset": 0.75, "color": "#FF1489"}, {"offset": 0.775, "color": "rgba(255,20,137,0)"}, {"offset": 0.8, "color": "#FF1489"}, {"offset": 0.825, "color": "rgba(255,20,137,0)"}, {"offset": 0.85, "color": "#FF1489"}, {"offset": 0.875, "color": "rgba(255,20,137,0)"}, {"offset": 0.9, "color": "#FF1489"}, {"offset": 0.925, "color": "rgba(255,20,137,0)"}, {"offset": 0.95, "color": "#FF1489"}, {"offset": 0.975, "color": "rgba(255,20,137,0)"}, {"offset": 1, "color": "#FF1489"}
        ]}},
      "encoding": {
        "x": {"field": "x", "type": "quantitative", "scale": {"domain": [0.5, 8.5], "nice": false, "zero": false, "padding": 0}},
        "y": {"field": "q1", "type": "quantitative", "scale": {"domain": [-50, 450], "nice": false, "zero": false, "padding": 0}},
        "y2": {"field": "q3"}
      }
    },
    {
      "data": {"name": "boxes"},
      "mark": {"type": "tick", "orient": "horizontal", "size": 82, "thickness": 3, "opacity": 1},
      "encoding": {
        "x": {"field": "x", "type": "quantitative", "scale": {"domain": [0.5, 8.5], "nice": false, "zero": false, "padding": 0}},
        "y": {"field": "med", "type": "quantitative", "scale": {"domain": [-50, 450], "nice": false, "zero": false, "padding": 0}},
        "fill": {"field": "group", "type": "nominal", "scale": {"domain": ["100 ng/L", "1000 ng/L"], "range": ["#FF1489", "#008000"]}, "legend": null}
      }
    },
    {
      "data": {"name": "boxes"},
      "mark": {"type": "rule", "strokeWidth": 3},
      "encoding": {
        "x": {"field": "x", "type": "quantitative", "scale": {"domain": [0.5, 8.5], "nice": false, "zero": false, "padding": 0}},
        "y": {"field": "hi", "type": "quantitative", "scale": {"domain": [-50, 450], "nice": false, "zero": false, "padding": 0}},
        "y2": {"field": "q3"},
        "stroke": {"field": "group", "type": "nominal", "scale": {"domain": ["100 ng/L", "1000 ng/L"], "range": ["#FF1489", "#008000"]}, "legend": null}
      }
    },
    {
      "data": {"name": "boxes"},
      "mark": {"type": "rule", "strokeWidth": 3},
      "encoding": {
        "x": {"field": "x", "type": "quantitative", "scale": {"domain": [0.5, 8.5], "nice": false, "zero": false, "padding": 0}},
        "y": {"field": "q1", "type": "quantitative", "scale": {"domain": [-50, 450], "nice": false, "zero": false, "padding": 0}},
        "y2": {"field": "lo"},
        "stroke": {"field": "group", "type": "nominal", "scale": {"domain": ["100 ng/L", "1000 ng/L"], "range": ["#FF1489", "#008000"]}, "legend": null}
      }
    },
    {
      "data": {"name": "boxes"},
      "mark": {"type": "tick", "orient": "horizontal", "size": 10, "thickness": 4, "opacity": 1},
      "encoding": {
        "x": {"field": "x", "type": "quantitative", "scale": {"domain": [0.5, 8.5], "nice": false, "zero": false, "padding": 0}},
        "y": {"field": "hi", "type": "quantitative", "scale": {"domain": [-50, 450], "nice": false, "zero": false, "padding": 0}},
        "fill": {"field": "group", "type": "nominal", "scale": {"domain": ["100 ng/L", "1000 ng/L"], "range": ["#FF1489", "#008000"]}, "legend": null}
      }
    },
    {
      "data": {"name": "boxes"},
      "mark": {"type": "tick", "orient": "horizontal", "size": 10, "thickness": 4, "opacity": 1},
      "encoding": {
        "x": {"field": "x", "type": "quantitative", "scale": {"domain": [0.5, 8.5], "nice": false, "zero": false, "padding": 0}},
        "y": {"field": "lo", "type": "quantitative", "scale": {"domain": [-50, 450], "nice": false, "zero": false, "padding": 0}},
        "fill": {"field": "group", "type": "nominal", "scale": {"domain": ["100 ng/L", "1000 ng/L"], "range": ["#FF1489", "#008000"]}, "legend": null}
      }
    },
    {
      "data": {"name": "curves"},
      "mark": {"type": "line", "interpolate": "monotone", "strokeWidth": 3.5},
      "encoding": {
        "x": {"field": "x", "type": "quantitative", "scale": {"domain": [0.5, 8.5], "nice": false, "zero": false, "padding": 0}},
        "y": {"field": "y", "type": "quantitative", "scale": {"domain": [-50, 450], "nice": false, "zero": false, "padding": 0}},
        "order": {"field": "x", "type": "quantitative"},
        "stroke": {"field": "group", "type": "nominal", "scale": {"domain": ["100 ng/L", "1000 ng/L"], "range": ["#FF1489", "#008000"]}, "legend": null}
      }
    },
    {
      "data": {"name": "boxes"},
      "mark": {"type": "point", "shape": "square", "size": 144, "filled": true, "opacity": 1, "strokeWidth": 0},
      "encoding": {
        "x": {"field": "x", "type": "quantitative", "scale": {"domain": [0.5, 8.5], "nice": false, "zero": false, "padding": 0}},
        "y": {"field": "mean", "type": "quantitative", "scale": {"domain": [-50, 450], "nice": false, "zero": false, "padding": 0}},
        "fill": {"field": "group", "type": "nominal", "scale": {"domain": ["100 ng/L", "1000 ng/L"], "range": ["#FF1489", "#008000"]}, "legend": null}
      }
    },
    {
      "data": {"name": "vline"},
      "mark": {"type": "rule", "color": "#FFC000", "strokeWidth": 8, "strokeDash": [32, 24]},
      "encoding": {
        "x": {"field": "x", "type": "quantitative", "scale": {"domain": [0.5, 8.5], "nice": false, "zero": false, "padding": 0}},
        "y": {"field": "ytop", "type": "quantitative", "scale": {"domain": [-50, 450], "nice": false, "zero": false, "padding": 0}},
        "y2": {"field": "ybot"}
      }
    },
    {
      "data": {"name": "vline"},
      "mark": {"type": "rule", "color": "black", "strokeWidth": 5},
      "encoding": {
        "y": {"datum": 97, "type": "quantitative", "scale": {"domain": [-50, 450], "nice": false, "zero": false, "padding": 0}}
      }
    }
  ]
}
